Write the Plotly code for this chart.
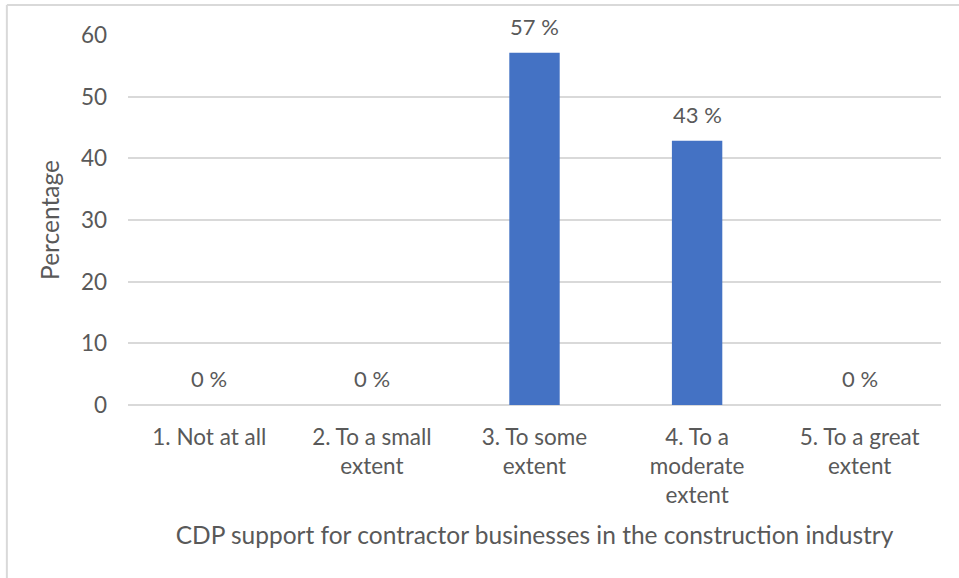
import plotly.graph_objects as go

# Survey responses (share of respondents, %)
categories = [
    "1. Not at all",
    "2. To a small<br>extent",
    "3. To some<br>extent",
    "4. To a<br>moderate<br>extent",
    "5. To a great<br>extent",
]
percentages = [0, 0, 57.14, 42.86, 0]
y_ticks = [0, 10, 20, 30, 40, 50, 60]

FONT = "Lato, Calibri, Carlito, sans-serif"
TEXT = "#595959"
GRID = "#d9d9d9"

fig = go.Figure()
fig.add_trace(go.Bar(
    x=categories,
    y=percentages,
    marker=dict(color="#4472C4", line=dict(width=0)),
    width=0.31,
    hoverinfo="skip",
))

# Value labels above each bar
for cat, val in zip(categories, percentages):
    fig.add_annotation(
        x=cat, y=val, xref="x", yref="y",
        text=f"{val:.0f} %", showarrow=False,
        yanchor="bottom", yshift=11,
        font=dict(family=FONT, size=22, color=TEXT),
    )

# Chart-area frame (top and left edges)
fig.add_shape(type="line", xref="paper", yref="paper",
              x0=-0.149, x1=1.05, y0=1.081, y1=1.081,
              line=dict(color=GRID, width=2))
fig.add_shape(type="line", xref="paper", yref="paper",
              x0=-0.149, x1=-0.149, y0=1.081, y1=-0.5,
              line=dict(color=GRID, width=2))

fig.update_layout(
    width=959, height=578,
    margin=dict(l=128, r=18, t=35, b=173),
    paper_bgcolor="white", plot_bgcolor="white",
    showlegend=False,
    font=dict(family=FONT, size=22, color=TEXT),
    xaxis=dict(
        showgrid=False, showline=False, ticks="",
        tickfont=dict(size=22.5, color=TEXT),
        ticklabelstandoff=16,
        title=dict(text="CDP support for contractor businesses in the construction industry",
                   font=dict(size=24.5, color=TEXT), standoff=19),
    ),
    yaxis=dict(
        range=[0, 60], tickvals=y_ticks,
        showgrid=True, gridcolor=GRID, gridwidth=1.5,
        zeroline=True, zerolinecolor=GRID, zerolinewidth=1.5,
        showline=False, ticks="",
        tickfont=dict(size=22.5, color=TEXT),
        ticklabelstandoff=20,
        title=dict(text="Percentage", font=dict(size=24.5, color=TEXT), standoff=14),
    ),
)

fig.write_html("out.html")
